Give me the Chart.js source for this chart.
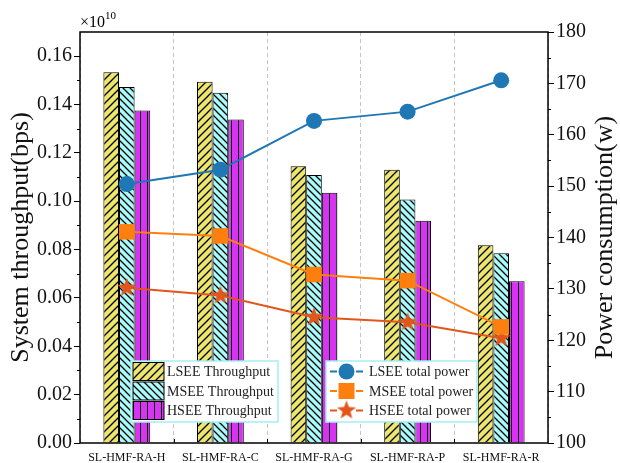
<!DOCTYPE html>
<html>
<head>
<meta charset="utf-8">
<script src="https://cdn.jsdelivr.net/npm/chart.js@4.4.1/dist/chart.umd.min.js"></script>
<style>
  html, body { margin: 0; padding: 0; background: #fff; }
  #wrap { width: 620px; height: 463px; }
</style>
</head>
<body>
<div id="wrap"><canvas id="chart" width="620" height="463"></canvas></div>
<script>
const categories = ["SL-HMF-RA-H", "SL-HMF-RA-C", "SL-HMF-RA-G", "SL-HMF-RA-P", "SL-HMF-RA-R"];

// throughput, in units of 1e10 bps
const lseeThroughput = [0.1534, 0.1494, 0.1145, 0.1130, 0.0818];
const mseeThroughput = [0.1473, 0.1449, 0.1109, 0.1007, 0.0785];
const hseeThroughput = [0.1375, 0.1338, 0.1035, 0.0919, 0.0669];

// total power (w)
const lseePower = [150.4, 153.2, 162.7, 164.5, 170.6];
const mseePower = [141.1, 140.3, 132.8, 131.6, 122.6];
const hseePower = [130.2, 128.7, 124.5, 123.5, 120.4];

const throughputTicks = [0, 0.02, 0.04, 0.06, 0.08, 0.10, 0.12, 0.14, 0.16];
const powerTicks = [100, 110, 120, 130, 140, 150, 160, 170, 180];

const serif = "'Liberation Serif', 'Times New Roman', serif";
const blue = "#1f77b4";
const orange = "#ff7f0e";
const red = "#e2561b";

const ctx = document.getElementById("chart").getContext("2d");

// hatch fills for the bars
function hatch(bg, kind, step) {
  const c = document.createElement("canvas");
  c.width = step;
  c.height = step;
  const g = c.getContext("2d");
  g.fillStyle = bg;
  g.fillRect(0, 0, step, step);
  g.strokeStyle = "#000";
  g.lineWidth = 1.3;
  g.beginPath();
  if (kind === "/") {
    for (let k = -1; k <= 1; k++) {
      g.moveTo(k * step - 1, step + 1);
      g.lineTo(k * step + step + 1, -1);
    }
  } else if (kind === "\\") {
    for (let k = -1; k <= 1; k++) {
      g.moveTo(k * step - 1, -1);
      g.lineTo(k * step + step + 1, step + 1);
    }
  } else {
    g.lineWidth = 1;
    g.moveTo(0.5, 0);
    g.lineTo(0.5, step);
  }
  g.stroke();
  return ctx.createPattern(c, "repeat");
}

const yellowFill = hatch("#ece66f", "/", 8);
const cyanFill = hatch("#aafcfc", "\\", 7);
const purpleFill = hatch("#d634f2", "|", 7);

// filled five point star used as a point style
function starImage(color, r) {
  const c = document.createElement("canvas");
  c.width = 2 * r + 2;
  c.height = 2 * r + 2;
  const g = c.getContext("2d");
  g.fillStyle = color;
  g.beginPath();
  for (let i = 0; i < 10; i++) {
    const rad = i % 2 === 0 ? r : r * 0.42;
    const a = -Math.PI / 2 + (i * Math.PI) / 5;
    const px = r + 1 + rad * Math.cos(a);
    const py = r + 1 + rad * Math.sin(a);
    if (i === 0) g.moveTo(px, py);
    else g.lineTo(px, py);
  }
  g.closePath();
  g.fill();
  return c;
}
const star = starImage(red, 10);

const barLegend = [
  { label: "LSEE Throughput", fill: yellowFill },
  { label: "MSEE Throughput", fill: cyanFill },
  { label: "HSEE Throughput", fill: purpleFill },
];
const lineLegend = [
  { label: "LSEE total power", color: blue, marker: "circle" },
  { label: "MSEE total power", color: orange, marker: "rect" },
  { label: "HSEE total power", color: red, marker: "star" },
];

function drawMarker(g, kind, color, x, y) {
  g.fillStyle = color;
  if (kind === "circle") {
    g.beginPath();
    g.arc(x, y, 8, 0, Math.PI * 2);
    g.fill();
  } else if (kind === "rect") {
    g.fillRect(x - 8, y - 8, 16, 16);
  } else {
    g.drawImage(star, x - star.width / 2, y - star.height / 2);
  }
}

const framePlugin = {
  id: "frame",
  afterDraw(chart) {
    const g = chart.ctx;
    const a = chart.chartArea;
    const yl = chart.scales.y;
    const yr = chart.scales.y1;
    const xs = chart.scales.x;
    g.save();
    g.strokeStyle = "#000";
    g.lineWidth = 1.5;
    g.strokeRect(a.left, a.top, a.right - a.left, a.bottom - a.top);

    // minor ticks
    g.lineWidth = 1;
    g.beginPath();
    for (let i = 0; i < throughputTicks.length - 1; i++) {
      const py = Math.round(yl.getPixelForValue((throughputTicks[i] + throughputTicks[i + 1]) / 2)) + 0.5;
      g.moveTo(a.left - 3, py);
      g.lineTo(a.left, py);
    }
    for (let i = 0; i < powerTicks.length - 1; i++) {
      const py = Math.round(yr.getPixelForValue((powerTicks[i] + powerTicks[i + 1]) / 2)) + 0.5;
      g.moveTo(a.right, py);
      g.lineTo(a.right + 3, py);
    }
    // inward ticks on the category axis
    for (let i = 1; i < categories.length; i++) {
      const px = Math.round((xs.getPixelForValue(i - 1) + xs.getPixelForValue(i)) / 2) + 0.5;
      g.moveTo(px, a.bottom);
      g.lineTo(px, a.bottom - 4);
    }
    g.stroke();

    // x10^10 multiplier
    g.fillStyle = "#000";
    g.textBaseline = "alphabetic";
    g.textAlign = "left";
    g.font = "16px " + serif;
    g.fillText("\u00d710", a.left, a.top - 5);
    const w = g.measureText("\u00d710").width;
    g.font = "11px " + serif;
    g.fillText("10", a.left + w, a.top - 13);

    // right axis title, reading bottom to top
    g.save();
    g.translate(605, (a.top + a.bottom) / 2);
    g.rotate(-Math.PI / 2);
    g.textAlign = "center";
    g.textBaseline = "middle";
    g.font = "26px " + serif;
    g.fillStyle = "#111";
    g.fillText("Power consumption(w)", 0, 0);
    g.restore();

    // legend for the bars
    let bx = a.left + 51, by = a.top + 329;
    g.fillStyle = "#fff";
    g.fillRect(bx, by, 147, 61);
    g.strokeStyle = "#a4eef6";
    g.lineWidth = 1.5;
    g.strokeRect(bx, by, 147, 61);
    g.font = "14px " + serif;
    g.textBaseline = "middle";
    barLegend.forEach((item, i) => {
      const ry = by + 1.5 + i * 19.5;
      g.fillStyle = item.fill;
      g.fillRect(bx + 2, ry, 31, 18);
      g.strokeStyle = "#000";
      g.lineWidth = 1;
      g.strokeRect(bx + 2, ry, 31, 18);
      g.fillStyle = "#222";
      g.fillText(item.label, bx + 36, ry + 10);
    });

    // legend for the lines
    bx = a.left + 246;
    g.fillStyle = "#fff";
    g.fillRect(bx, by, 151, 61);
    g.strokeStyle = "#a4eef6";
    g.lineWidth = 1.5;
    g.strokeRect(bx, by, 151, 61);
    lineLegend.forEach((item, i) => {
      const cy = by + 10.5 + i * 19.5;
      g.strokeStyle = item.color;
      g.lineWidth = 2;
      g.beginPath();
      g.moveTo(bx + 4, cy);
      g.lineTo(bx + 11, cy);
      g.moveTo(bx + 30, cy);
      g.lineTo(bx + 37, cy);
      g.stroke();
      drawMarker(g, item.marker, item.color, bx + 20.5, cy);
      g.fillStyle = "#222";
      g.fillText(item.label, bx + 43, cy + 1);
    });
    g.restore();
  },
};

new Chart(ctx, {
  data: {
    labels: categories,
    datasets: [
      {
        type: "line", label: "LSEE total power", data: lseePower, yAxisID: "y1", order: 0,
        borderColor: blue, borderWidth: 2, pointStyle: "circle", pointRadius: 8,
        pointBackgroundColor: blue, pointBorderWidth: 0,
      },
      {
        type: "line", label: "MSEE total power", data: mseePower, yAxisID: "y1", order: 0,
        borderColor: orange, borderWidth: 2, pointStyle: "rect", pointRadius: 11,
        pointBackgroundColor: orange, pointBorderWidth: 0,
      },
      {
        type: "line", label: "HSEE total power", data: hseePower, yAxisID: "y1", order: 0,
        borderColor: red, borderWidth: 2, pointStyle: star, pointRadius: 10,
        pointBackgroundColor: red, pointBorderWidth: 0,
      },
      {
        type: "bar", label: "LSEE Throughput", data: lseeThroughput, yAxisID: "y", order: 1,
        backgroundColor: yellowFill, borderColor: "#000", borderWidth: 1,
        categoryPercentage: 0.5, barPercentage: 1,
      },
      {
        type: "bar", label: "MSEE Throughput", data: mseeThroughput, yAxisID: "y", order: 1,
        backgroundColor: cyanFill, borderColor: "#000", borderWidth: 1,
        categoryPercentage: 0.5, barPercentage: 1,
      },
      {
        type: "bar", label: "HSEE Throughput", data: hseeThroughput, yAxisID: "y", order: 1,
        backgroundColor: purpleFill, borderColor: "#000", borderWidth: 1,
        categoryPercentage: 0.5, barPercentage: 1,
      },
    ],
  },
  options: {
    responsive: false,
    animation: false,
    layout: { padding: { top: 32, left: 0, right: 0, bottom: 0 } },
    plugins: { legend: { display: false }, tooltip: { enabled: false } },
    scales: {
      x: {
        offset: true,
        grid: { offset: true, color: "#c4c4c4", lineWidth: 1, drawTicks: false },
        border: { display: false, dash: [4, 3] },
        ticks: { font: { family: serif, size: 12 }, color: "#111", padding: 8, maxRotation: 0, autoSkip: false },
        afterFit: (s) => { s.height = 20; },
      },
      y: {
        position: "left",
        min: 0,
        max: 0.17,
        grid: { drawOnChartArea: false, tickLength: 6, tickColor: "#000", tickWidth: 1 },
        border: { display: false },
        afterBuildTicks: (s) => { s.ticks = throughputTicks.map((v) => ({ value: v })); },
        ticks: {
          font: { family: serif, size: 20 }, color: "#111", padding: 2,
          callback: (v) => v.toFixed(2),
        },
        title: {
          display: true, text: "System throughput(bps)", color: "#111",
          font: { family: serif, size: 26, lineHeight: 1.2 }, padding: { top: 6, bottom: 0 },
        },
        afterFit: (s) => { s.width = 80; },
      },
      y1: {
        position: "right",
        min: 100,
        max: 180,
        grid: { drawOnChartArea: false, tickLength: 6, tickColor: "#000", tickWidth: 1 },
        border: { display: false },
        afterBuildTicks: (s) => { s.ticks = powerTicks.map((v) => ({ value: v })); },
        ticks: { font: { family: serif, size: 20 }, color: "#111", padding: 2 },
        afterFit: (s) => { s.width = 72; },
      },
    },
  },
  plugins: [framePlugin],
});
</script>
</body>
</html>
